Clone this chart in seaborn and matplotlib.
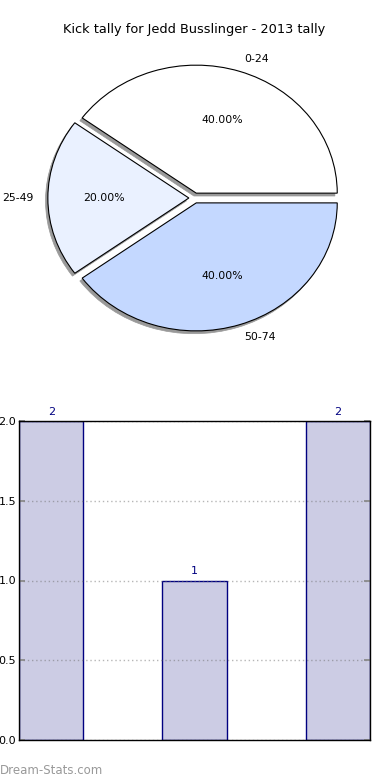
import matplotlib
matplotlib.use("Agg")
import matplotlib.pyplot as plt
import seaborn as sns
import pandas as pd

title = "Kick tally for Jedd Busslinger - 2013 tally"
pie_labels = ["0-24", "25-49", "50-74"]
pie_values = [2, 1, 2]
pie_colors = ["#ffffff", "#eaf1ff", "#c4d8ff"]

bar_categories = ["0-24", "25-49", "50-74"]
bar_values = [2, 1, 2]
y_ticks = [0.0, 0.5, 1.0, 1.5, 2.0]
watermark = "Dream-Stats.com"

sns.set_theme(style="white")
plt.rcParams["font.family"] = ["DejaVu Sans"]
plt.rcParams["text.color"] = "black"

fig = plt.figure(figsize=(3.9, 7.8), dpi=100)

# Pie
ax1 = fig.add_axes([18.25 / 390, 0.541, 352.5 / 390, 320 / 780])
wedges, texts, autotexts = ax1.pie(
    pie_values, labels=pie_labels, colors=pie_colors, autopct="%.2f%%",
    explode=[0.04] * 3, startangle=0, counterclock=True,
    shadow={"ox": -0.012, "oy": -0.016, "facecolor": "#999999",
            "edgecolor": "#999999", "alpha": 1.0, "linewidth": 0.5},
    wedgeprops={"edgecolor": "black", "linewidth": 0.8},
    textprops={"fontsize": 7.8, "color": "black"},
    labeldistance=1.1, pctdistance=0.6)
ax1.set_aspect("auto")
ax1.set_xlim(-1.25, 1.25)
ax1.set_ylim(-1.25, 1.25)
ax1.axis("off")
fig.text(194 / 390, 1 - 30 / 780, title, ha="center", va="center",
         fontsize=9.3, color="black")

# Bar
ax2 = fig.add_axes([19 / 390, 40 / 780, 351 / 390, 319 / 780])
df = pd.DataFrame({"cat": bar_categories, "val": bar_values})
sns.barplot(data=df, x="cat", y="val", ax=ax2, color="#ccccE4", saturation=1,
            edgecolor="#000080", linewidth=1.0, width=0.45, zorder=1)
ax2.set_xlim(-0.225, 2.225)
ax2.set_ylim(0, 2.0)
ax2.set_yticks(y_ticks)
ax2.set_yticklabels([f"{v:.1f}" for v in y_ticks])
ax2.set_xticks([])
ax2.set_xlabel("")
ax2.set_ylabel("")
for c in ax2.containers:
    ax2.bar_label(c, labels=[str(v) for v in bar_values], color="#000080",
                  fontsize=8, padding=3)
ax2.tick_params(axis="y", direction="in", length=4, color="#888888",
                left=True, right=True, labelsize=8, pad=2, labelcolor="black")
ax2.grid(False)
x0, x1 = ax2.get_xlim()
ax2.hlines(y_ticks, x0, x1, colors="#6e6e6e", alpha=0.5,
           linestyles=(0, (1, 2)), linewidth=1.0, zorder=4)
ax2.set_xlim(x0, x1)
ax2.yaxis.set_zorder(5)
for s in ax2.spines.values():
    s.set_color("black")
    s.set_linewidth(1.0)
    s.set_zorder(6)

fig.text(0, 1 - 770 / 780, watermark, ha="left", va="center", fontsize=8.5,
         color="#999999")

fig.savefig("out.png", dpi=100)
